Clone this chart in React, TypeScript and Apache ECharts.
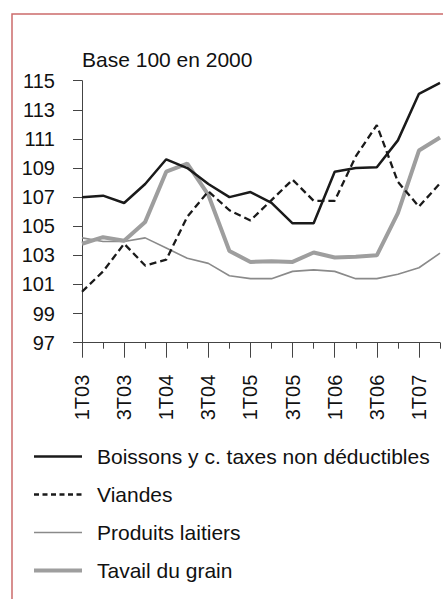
import React, { useEffect, useRef } from 'react';
import * as echarts from 'echarts';

const categories = ['1T03', '2T03', '3T03', '4T03', '1T04', '2T04', '3T04', '4T04', '1T05', '2T05', '3T05', '4T05', '1T06', '2T06', '3T06', '4T06', '1T07', '2T07'];
const boissons = [107.0, 107.1, 106.6, 107.9, 109.6, 109.0, 107.9, 107.0, 107.35, 106.6, 105.2, 105.2, 108.75, 109.0, 109.05, 110.9, 114.1, 114.85];
const viandes = [100.5, 101.9, 103.8, 102.3, 102.7, 105.65, 107.4, 106.1, 105.4, 106.8, 108.2, 106.75, 106.75, 109.8, 111.95, 108.05, 106.35, 107.95];
const laitiers = [104.2, 103.95, 103.95, 104.2, 103.5, 102.8, 102.45, 101.6, 101.4, 101.4, 101.9, 102.0, 101.9, 101.4, 101.4, 101.7, 102.15, 103.15];
const grain = [103.8, 104.25, 104.0, 105.3, 108.75, 109.3, 107.15, 103.3, 102.55, 102.6, 102.55, 103.2, 102.85, 102.9, 103.0, 105.9, 110.2, 111.1];
const seriesNames = ['Boissons y c. taxes non déductibles', 'Viandes', 'Produits laitiers', 'Tavail du grain'];
const yMin = 97;
const yMax = 115;
const yStep = 2;
const subtitle = 'Base 100 en 2000';

const FONT = '"Liberation Sans", Arial, sans-serif';

const styles = [
  { color: '#1a1a1a', width: 2.5, type: 'solid' as any, z: 5 },
  { color: '#1a1a1a', width: 2.3, type: [7, 4] as any, z: 4 },
  { color: '#8a8a8a', width: 1.6, type: 'solid' as any, z: 2 },
  { color: '#9e9e9e', width: 4, type: 'solid' as any, z: 3 },
];
const legendDash = [5, 3.5];

export default function App() {
  const ref = useRef<HTMLDivElement>(null);
  useEffect(() => {
    document.body.style.margin = '0';
    const chart = echarts.init(ref.current!, undefined, { renderer: 'svg' });
    const axisColor = '#444';
    const values = [boissons, viandes, laitiers, grain];
    chart.setOption({
      animation: false,
      backgroundColor: '#fff',
      textStyle: { fontFamily: FONT },
      grid: { left: 82, right: 3, top: 80.7, bottom: 256.3, containLabel: false },
      graphic: [
        {
          type: 'rect',
          shape: { x: 12, y: 14, width: 600, height: 700 },
          style: { fill: 'none', stroke: '#cc6b6b', lineWidth: 1.5 },
          silent: true,
        },
        {
          type: 'text',
          x: 82,
          y: 59,
          style: { text: subtitle, fontSize: 21, fontFamily: FONT, fill: '#111', verticalAlign: 'middle', align: 'left' },
        },
      ],
      legend: {
        orient: 'vertical',
        left: 32,
        top: 446,
        padding: 0,
        itemWidth: 48,
        itemHeight: 14,
        itemGap: 17,
        selectedMode: false,
        itemStyle: { opacity: 0 },
        textStyle: { fontSize: 21, color: '#111', fontFamily: FONT, padding: [0, 0, 0, 10] },
        data: seriesNames.map((name, i) => ({
          name,
          itemStyle: { opacity: 0 },
          lineStyle: {
            color: styles[i].color,
            width: styles[i].width,
            type: i === 1 ? legendDash : 'solid',
          },
        })),
      },
      xAxis: [
        {
          type: 'category',
          data: categories,
          boundaryGap: false,
          position: 'bottom',
          axisLine: { show: true, lineStyle: { color: axisColor, width: 1 } },
          axisTick: { show: true, interval: 0, length: 6, lineStyle: { color: axisColor } },
          axisLabel: { show: false },
          splitLine: { show: false },
        },
        {
          type: 'category',
          data: categories,
          boundaryGap: false,
          position: 'bottom',
          offset: 0,
          axisLine: { show: false },
          axisTick: { show: true, interval: 1, length: 15, lineStyle: { color: axisColor } },
          axisLabel: { show: true, interval: 1, rotate: 90, margin: 32, fontSize: 20, color: '#111', fontFamily: FONT },
          splitLine: { show: false },
        },
      ],
      yAxis: {
        type: 'value',
        min: yMin,
        max: yMax,
        interval: yStep,
        axisLine: { show: true, lineStyle: { color: axisColor, width: 1 } },
        axisTick: { show: true, length: 9, lineStyle: { color: axisColor } },
        axisLabel: { margin: 27, fontSize: 20, color: '#111', fontFamily: FONT },
        splitLine: { show: false },
      },
      series: seriesNames.map((name, i) => ({
        name,
        type: 'line',
        data: values[i],
        symbol: 'none',
        lineStyle: { color: styles[i].color, width: styles[i].width, type: styles[i].type },
        itemStyle: { color: styles[i].color },
        z: styles[i].z,
      })),
    });
    return () => chart.dispose();
  }, []);
  return <div ref={ref} style={{ position: 'fixed', left: 0, top: 0, width: 443, height: 599 }} />;
}
